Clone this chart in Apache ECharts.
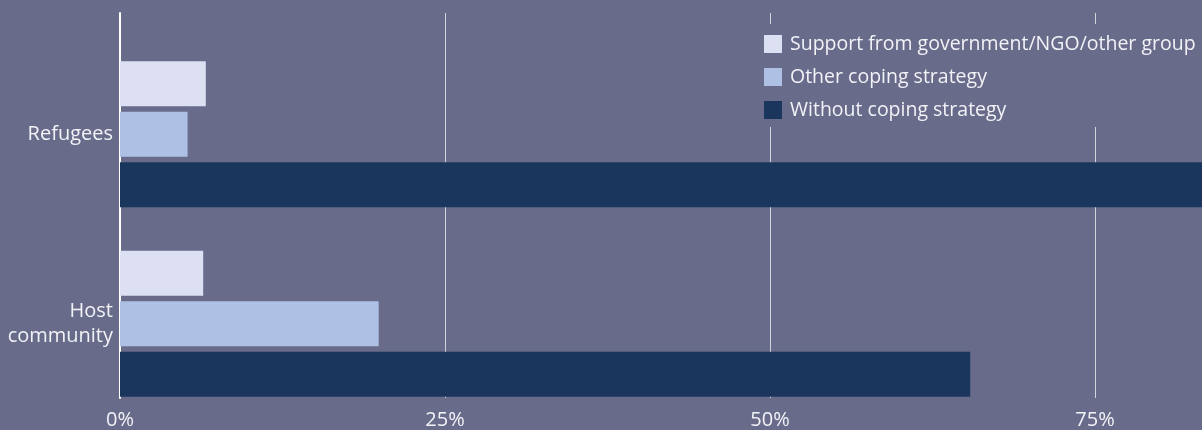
<!DOCTYPE html>
<html lang="en">
<head>
    <meta charset="UTF-8">
    <title>Coping strategies</title>
    <script src="https://cdn.jsdelivr.net/npm/echarts@6/dist/echarts.min.js"></script>
    <style>
        *{
            margin: 0;
            padding: 0;
        }
        body,html{
            width: 100%;
            height: 100%;
            overflow: hidden;
            background: #686b8a;
        }
        .box{
            width: 1202px;
            height: 430px;
        }
    </style>
</head>
<body>
<div class="box"></div>
<script>
    // data
    let groups = ['Refugees', 'Host community'];
    let seriesNames = ['Support from government/NGO/other group', 'Other coping strategy', 'Without coping strategy'];
    let supportVals = [6.6, 6.4];
    let otherVals = [5.2, 19.9];
    let withoutVals = [86, 65.4];
    let xTicks = [0, 25, 50, 75];

    let colors = ['#dce0f2', '#aec0e4', '#1b365d'];
    let bg = '#686b8a';
    let xMax = 1082 / 13;
    let font = 'Open Sans';

    let myChart = echarts.init(document.querySelector('.box'));

    let values = [supportVals, otherVals, withoutVals];
    let series = seriesNames.map((name, i) => ({
        name,
        type: 'bar',
        xAxisIndex: 0,
        yAxisIndex: 0,
        data: values[i],
        itemStyle: {color: colors[i]},
        barGap: '12%',
        barCategoryGap: '23%',
        z: 3
    }));

    let option = {
        backgroundColor: bg,
        animation: false,
        grid: [
            {left: 120, right: 0, top: 39.5, height: 379},
            {left: 120, right: 0, top: 13, bottom: 25}
        ],
        legend: {
            orient: 'vertical',
            left: 754,
            top: 24,
            padding: [10, 10, 7, 10],
            backgroundColor: bg,
            itemWidth: 18,
            itemHeight: 18,
            itemGap: 13,
            icon: 'rect',
            data: seriesNames,
            textStyle: {color: '#f2f2f7', fontSize: 19.5, fontFamily: font, padding: [0, 0, 0, 3]},
            z: 10
        },
        xAxis: [
            {
                gridIndex: 0, type: 'value', min: 0, max: xMax,
                show: false
            },
            {
                gridIndex: 1, type: 'value', min: 0, max: xMax, interval: 25,
                axisLine: {show: false},
                axisTick: {show: false},
                axisLabel: {
                    color: '#f2f2f7', fontSize: 20, fontFamily: font, margin: 12,
                    showMaxLabel: false,
                    formatter: v => xTicks.includes(v) ? v + '%' : ''
                },
                splitLine: {
                    show: true, showMinLine: false, showMaxLine: false,
                    lineStyle: {color: '#d4d4dc', width: 1}
                }
            }
        ],
        yAxis: [
            {
                gridIndex: 0, type: 'category', data: groups, inverse: true,
                axisLine: {show: false},
                axisTick: {show: false},
                axisLabel: {
                    color: '#f2f2f7', fontSize: 20, fontFamily: font, margin: 7,
                    align: 'right', lineHeight: 25,
                    formatter: v => v.replace(' ', '\n')
                }
            },
            {
                gridIndex: 1, type: 'value', min: 0, max: 1,
                axisLine: {show: true, lineStyle: {color: '#ffffff', width: 2}},
                axisTick: {show: false},
                axisLabel: {show: false},
                splitLine: {show: false}
            }
        ],
        series
    };

    myChart.setOption(option);
</script>
</body>
</html>
